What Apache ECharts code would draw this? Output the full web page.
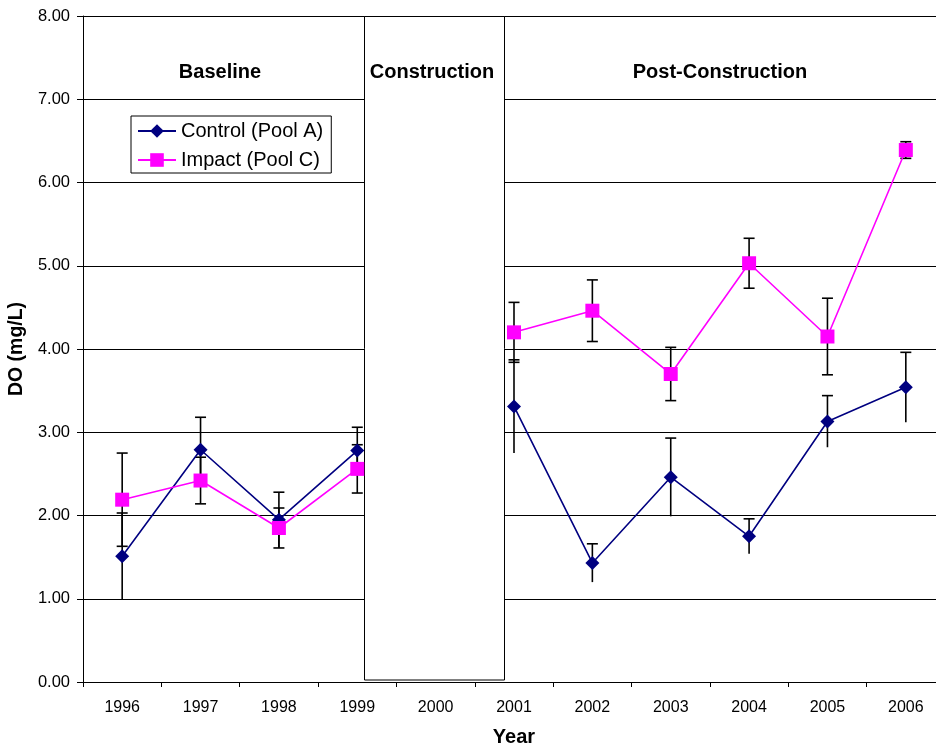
<!DOCTYPE html>
<html>
<head>
<meta charset="utf-8">
<script src="https://cdn.jsdelivr.net/npm/echarts@6/dist/echarts.min.js"></script>
<style>html,body{margin:0;padding:0;background:#fff}#c{width:936px;height:748px}</style>
</head>
<body>
<div id="c"></div>
<script>
var years = ['1996','1997','1998','1999','2000','2001','2002','2003','2004','2005','2006'];
var control = [1.51, 2.79, 1.95, 2.78, null, 3.31, 1.43, 2.46, 1.75, 3.13, 3.54];
var controlErr = [0.52, 0.39, 0.33, 0.28, null, 0.56, 0.23, 0.47, 0.21, 0.31, 0.42];
var impact = [2.19, 2.42, 1.85, 2.56, null, 4.20, 4.46, 3.70, 5.03, 4.15, 6.39];
var impactErr = [0.56, 0.28, 0.24, 0.29, null, 0.36, 0.37, 0.32, 0.30, 0.46, 0.10];
var yTicks = [0,1,2,3,4,5,6,7,8];
var periods = ['Baseline', 'Construction', 'Post-Construction'];

var FONT = 'Arial, "Liberation Sans", sans-serif';

function errData(vals, errs, capLow) {
  var out = [];
  for (var i = 0; i < vals.length; i++) {
    if (vals[i] == null) continue;
    out.push([i, vals[i], errs[i], capLow ? 1 : 0]);
  }
  return out;
}

function renderErr(params, api) {
  var x = api.value(0), y = api.value(1), e = api.value(2), capLow = api.value(3);
  var top = api.coord([x, y + e]);
  var bot = api.coord([x, y - e]);
  var hw = 5.5;
  var st = { stroke: '#000', lineWidth: 1.6 };
  var children = [
    { type: 'line', shape: { x1: top[0], y1: top[1], x2: bot[0], y2: bot[1] }, style: st },
    { type: 'line', shape: { x1: top[0] - hw, y1: top[1], x2: top[0] + hw, y2: top[1] }, style: st }
  ];
  if (capLow) children.push({ type: 'line', shape: { x1: bot[0] - hw, y1: bot[1], x2: bot[0] + hw, y2: bot[1] }, style: st });
  return { type: 'group', children: children };
}

var chart = echarts.init(document.getElementById('c'), null, { renderer: 'canvas' });
var option = {
  animation: false,
  backgroundColor: '#fff',
  textStyle: { fontFamily: FONT },
  grid: { left: 83, top: 16, width: 862, height: 666, containLabel: false, outerBoundsMode: 'none' },
  legend: {
    orient: 'vertical', left: 131, top: 116,
    data: ['Control (Pool A)', 'Impact (Pool C)'],
    backgroundColor: '#fff', borderColor: '#000', borderWidth: 1,
    padding: [5, 8, 3, 6], itemWidth: 38, itemHeight: 17, itemGap: 9,
    textStyle: { fontFamily: FONT, fontSize: 20, color: '#000' }
  },
  xAxis: {
    type: 'category', data: years, boundaryGap: true,
    axisLine: { lineStyle: { color: '#000', width: 1 } },
    axisTick: { show: true, length: 5, lineStyle: { color: '#000' } },
    axisLabel: { color: '#000', fontSize: 16, fontFamily: FONT, margin: 18 },
    name: 'Year', nameLocation: 'middle', nameGap: 45,
    nameTextStyle: { fontWeight: 'bold', fontSize: 20, color: '#000', fontFamily: FONT },
    splitLine: { show: false }
  },
  yAxis: {
    type: 'value', min: yTicks[0], max: yTicks[yTicks.length - 1], interval: 1,
    axisLine: { show: true, lineStyle: { color: '#000', width: 1 } },
    axisTick: { show: true, length: 6, inside: false, lineStyle: { color: '#000' } },
    axisLabel: { color: '#000', fontSize: 16.5, fontFamily: FONT, margin: 13, formatter: function (v) { return v.toFixed(2); } },
    splitLine: { show: true, lineStyle: { color: '#000', width: 1 } },
    name: 'DO (mg/L)', nameLocation: 'middle', nameGap: 55, nameRotate: 90,
    nameTextStyle: { fontWeight: 'bold', fontSize: 19.5, color: '#000', fontFamily: FONT }
  },
  series: [
    { type: 'custom', name: 'errC', renderItem: renderErr, data: errData(control, controlErr, false), z: 1, silent: true },
    { type: 'custom', name: 'errI', renderItem: renderErr, data: errData(impact, impactErr, true), z: 1, silent: true },
    {
      name: 'Control (Pool A)', type: 'line', data: control, connectNulls: false,
      symbol: 'diamond', symbolSize: 14, z: 3,
      lineStyle: { color: '#000080', width: 1.6 },
      itemStyle: { color: '#000080' }
    },
    {
      name: 'Impact (Pool C)', type: 'line', data: impact, connectNulls: false,
      symbol: 'rect', symbolSize: 14, z: 4,
      lineStyle: { color: '#FF00FF', width: 1.6 },
      itemStyle: { color: '#FF00FF' }
    }
  ],
  graphic: [
    { type: 'rect', shape: { x: 364.5, y: 16.5, width: 140, height: 663.5 }, style: { fill: '#fff', stroke: '#000', lineWidth: 1 }, z: 2 },
    { type: 'text', x: 220, y: 72, style: { text: periods[0], font: 'bold 20px ' + FONT, fill: '#000', align: 'center', verticalAlign: 'middle' }, z: 11 },
    { type: 'text', x: 432, y: 72, style: { text: periods[1], font: 'bold 20px ' + FONT, fill: '#000', align: 'center', verticalAlign: 'middle' }, z: 11 },
    { type: 'text', x: 720, y: 72, style: { text: periods[2], font: 'bold 20px ' + FONT, fill: '#000', align: 'center', verticalAlign: 'middle' }, z: 11 }
  ]
};
chart.setOption(option);
</script>
</body>
</html>
